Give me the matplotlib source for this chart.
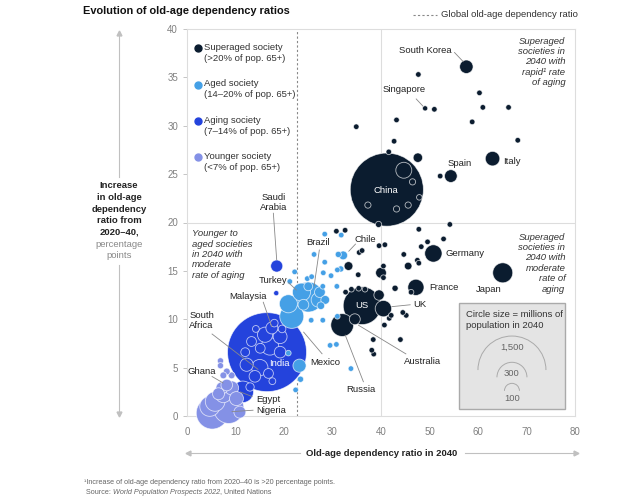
import matplotlib
matplotlib.use('Agg')
import matplotlib.pyplot as plt
from matplotlib.patches import Arc, Rectangle
from matplotlib.lines import Line2D
import numpy as np

plt.rcParams['font.family'] = ['Liberation Sans', 'DejaVu Sans']

# old-age dependency ratio 2040 / increase 2020-40 / population 2040 (millions)
super_x = [57.6, 47.7, 49.1, 51.0, 60.3, 61.0, 66.3, 58.8, 43.2, 34.9, 68.2, 42.7, 41.6, 47.6,
           63.0, 54.4, 52.2, 41.2, 44.7, 46.5, 47.9, 45.6, 43.2, 37.3, 39.5, 54.2, 47.8, 52.9,
           49.6, 48.3, 50.8, 44.7, 47.5, 47.8, 45.6, 40.5, 40.0, 40.5, 35.3, 33.3, 39.6, 40.8,
           35.5, 36.1, 30.8, 32.6, 65.1, 42.9, 47.2, 46.2, 32.7, 33.9, 35.4, 36.7, 39.6, 36.1,
           40.5, 42.1, 41.7, 44.5, 45.2, 32.0, 34.6, 40.7, 38.4, 44.0, 38.1, 38.5]
super_y = [36.1, 35.3, 31.8, 31.7, 33.4, 31.9, 31.9, 30.4, 30.6, 29.9, 28.5, 28.4, 27.3, 26.7,
           26.6, 24.8, 24.8, 23.4, 25.4, 24.2, 22.6, 21.8, 21.4, 21.8, 19.8, 19.8, 19.3, 18.3,
           18.0, 17.5, 16.8, 16.7, 16.1, 15.8, 15.5, 15.5, 14.8, 14.3, 14.6, 15.5, 17.6, 17.7,
           16.9, 17.1, 19.1, 19.2, 14.8, 13.2, 13.3, 12.8, 12.8, 13.1, 13.2, 13.1, 12.5, 11.4,
           11.1, 10.4, 10.1, 10.7, 10.4, 9.4, 10.0, 9.4, 7.9, 7.9, 6.8, 6.4]
super_pop = [47, 8, 7, 8, 8, 8, 8, 8, 8, 8, 8, 8, 8, 23,
             55, 42, 8, 1390, 66, 10, 8, 10, 10, 10, 10, 8, 8, 8,
             8, 8, 78, 8, 8, 8, 15, 8, 30, 8, 8, 20, 8, 8,
             8, 8, 8, 8, 104, 10, 68, 8, 8, 8, 8, 8, 28, 370,
             70, 8, 8, 8, 8, 135, 31, 8, 8, 8, 8, 8]

aged_x = [28.4, 31.8, 32.2, 31.2, 26.2, 28.4, 28.1, 29.7, 31.0, 31.7, 30.9, 28.0, 22.2, 24.8,
          25.7, 21.2, 25.0, 27.1, 27.4, 23.6, 24.0, 28.5, 25.0, 27.6, 21.6, 20.9, 25.6, 28.0,
          31.0, 29.5, 30.8, 33.8, 20.9, 23.2, 23.4, 22.4]
aged_y = [18.8, 18.7, 16.6, 16.7, 16.7, 15.9, 14.8, 14.5, 15.1, 15.2, 13.4, 13.4, 14.9, 14.2,
          14.4, 13.9, 12.3, 12.0, 12.8, 12.8, 11.5, 12.0, 13.4, 11.4, 10.3, 11.6, 9.9, 9.9,
          10.3, 7.3, 7.4, 4.9, 6.5, 5.2, 3.8, 2.7]
aged_pop = [8, 8, 20, 10, 8, 8, 8, 8, 8, 10, 8, 8, 8, 8,
            8, 8, 235, 55, 30, 85, 30, 20, 20, 15, 150, 85, 8, 8,
            8, 8, 8, 8, 8, 45, 10, 8]

aging_x = [18.5, 18.4, 16.5, 16.1, 19.2, 17.1, 19.2, 13.3, 15.1, 12.3, 15.0, 14.0, 16.8, 13.0,
           17.5, 11.5, 18.0, 19.6, 14.2, 12.0, 17.6]
aging_y = [15.5, 12.7, 6.6, 8.4, 8.2, 7.2, 6.6, 7.7, 7.0, 5.3, 5.0, 4.1, 4.4, 3.0,
           9.1, 2.5, 9.6, 9.0, 9.0, 6.6, 3.6]
aging_pop = [38, 7, 1620, 60, 50, 80, 35, 25, 25, 45, 70, 35, 25, 18,
             37, 120, 15, 15, 12, 20, 12]

young_x = [6.9, 6.9, 7.5, 8.2, 9.2, 8.2, 5.2, 8.6, 5.8, 7.5, 7.2, 9.2, 10.2, 6.5, 4.7, 10.9]
young_y = [5.7, 5.2, 4.2, 4.6, 4.2, 3.2, 0.3, 0.8, 1.5, 2.2, 2.9, 2.9, 1.8, 2.3, 1.0, 0.4]
young_pop = [10, 10, 12, 12, 12, 35, 265, 240, 100, 66, 37, 51, 51, 37, 104, 37]

categories = ['Superaged society\n(>20% of pop. 65+)', 'Aged society\n(14–20% of pop. 65+)',
              'Aging society\n(7–14% of pop. 65+)', 'Younger society\n(<7% of pop. 65+)']
colors = ['#0b1c2f', '#45a0e6', '#2443dc', '#8491e6']
global_ratio = 22.7

W, H = 640, 504
fig = plt.figure(figsize=(W / 100, H / 100), dpi=100)
ax = fig.add_axes([187 / W, 88 / H, 388 / W, 387 / H])
ax.set_xlim(0, 80)
ax.set_ylim(0, 40)
pxx = 388 / 80
pxy = 387 / 40

for sp in ax.spines.values():
    sp.set_color('#dddddd')
    sp.set_linewidth(0.8)
ax.set_xticks(range(0, 81, 10))
ax.set_yticks(range(0, 41, 5))
ax.tick_params(colors='#bbbbbb', labelcolor='#808080', length=3, width=0.6, labelsize=7)
ax.tick_params(axis='x', length=0, pad=8)

ax.axhline(20, color='#dddddd', lw=0.8, zorder=1)
ax.axvline(40, color='#dddddd', lw=0.8, zorder=1)
ax.axvline(global_ratio, color='#888888', lw=0.8, ls=(0, (2, 2)), zorder=1)

# all bubbles, largest first
xs = np.array(super_x + aged_x + aging_x + young_x)
ys = np.array(super_y + aged_y + aging_y + young_y)
pops = np.array(super_pop + aged_pop + aging_pop + young_pop, dtype=float)
cols = ([colors[0]] * len(super_x) + [colors[1]] * len(aged_x) +
        [colors[2]] * len(aging_x) + [colors[3]] * len(young_x))
order = np.argsort(-pops)
r_px = 38 * np.sqrt(pops / 1500)
sizes = (2 * r_px * 0.72) ** 2
ax.scatter(xs[order], ys[order], s=sizes[order], c=[cols[i] for i in order],
           edgecolors=(1, 1, 1, 0.7), linewidths=0.6, clip_on=False, zorder=3)

# country labels: name, text pos, ha, leader line
labels = [
    ('South Korea', 49.1, 37.8, 'center', (55.1, 37.6, 57.0, 36.6)),
    ('Singapore', 44.7, 33.7, 'center', (47.2, 32.8, 48.7, 32.0)),
    ('Spain', 56.2, 26.1, 'center', None),
    ('Italy', 65.1, 26.3, 'left', None),
    ('Germany', 53.2, 16.8, 'left', None),
    ('France', 49.9, 13.3, 'left', None),
    ('Japan', 62.3, 13.1, 'center', None),
    ('UK', 46.7, 11.5, 'left', (42.2, 11.3, 46.1, 11.5)),
    ('Australia', 48.6, 5.6, 'center', (45.2, 6.4, 35.3, 9.4)),
    ('Russia', 35.8, 2.7, 'center', (36.4, 3.5, 32.6, 8.4)),
    ('Mexico', 28.6, 5.5, 'center', (27.9, 6.4, 24.0, 8.7)),
    ('Chile', 36.7, 18.2, 'center', (34.8, 17.8, 33.3, 17.0)),
    ('Brazil', 27.1, 17.9, 'center', (27.3, 17.2, 26.2, 13.4)),
    ('Turkey', 17.8, 14.0, 'center', (20.9, 13.8, 22.6, 13.0)),
    ('Saudi\nArabia', 17.9, 22.1, 'center', (17.8, 21.0, 18.5, 16.1)),
    ('Malaysia', 12.6, 12.3, 'center', (15.7, 11.8, 17.5, 9.2)),
    ('South\nAfrica', 0.5, 9.9, 'left', (5.1, 8.5, 14.7, 4.8)),
    ('Ghana', 0.0, 4.6, 'left', (5.1, 4.1, 7.5, 3.4)),
    ('Egypt', 14.2, 1.7, 'left', (13.5, 2.0, 10.9, 2.5)),
    ('Nigeria', 14.2, 0.55, 'left', (13.7, 0.6, 9.2, 0.45)),
]
for name, tx, ty, ha, line in labels:
    ax.text(tx, ty, name, ha=ha, va='center', fontsize=6.8, color='#222222',
            linespacing=1.1, zorder=6)
    if line:
        ax.plot([line[0], line[2]], [line[1], line[3]], color='#888888', lw=0.6,
                zorder=5, solid_capstyle='butt')
for name, tx, ty in [('China', 41.0, 23.3), ('US', 36.0, 11.4), ('India', 19.0, 5.4)]:
    ax.text(tx, ty, name, ha='center', va='center', fontsize=6.8, color='white', zorder=6)

# quadrant notes
ax.text(78, 36.6, 'Superaged\nsocieties in\n2040 with\nrapid¹ rate\nof aging', ha='right',
        va='center', fontsize=6.8, style='italic', color='#333333', linespacing=1.2)
ax.text(78, 15.8, 'Superaged\nsocieties in\n2040 with\nmoderate\nrate of\naging', ha='right',
        va='center', fontsize=6.8, style='italic', color='#333333', linespacing=1.2)
ax.text(1.1, 16.7, 'Younger to\naged societies\nin 2040 with\nmoderate\nrate of aging',
        ha='left', va='center', fontsize=6.8, style='italic', color='#333333', linespacing=1.2)

# category legend
for i, (lab, col) in enumerate(zip(categories, colors)):
    yy = 38.0 - i * 3.75
    ax.plot(2.2, yy, 'o', color=col, ms=5, zorder=6)
    ax.text(3.6, yy + 0.55, lab, ha='left', va='top', fontsize=6.8, color='#333333',
            linespacing=1.3)

# size legend box
ax.add_patch(Rectangle((56.1, 0.75), 21.8, 10.95, fc='#e4e4e4', ec='#aaaaaa', lw=1, zorder=7))
ax.text(57.6, 11.0, 'Circle size = millions of\npopulation in 2040', ha='left', va='top',
        fontsize=6.8, color='#333333', linespacing=1.3, zorder=8)
for cy, r, lab, ly in [(4.75, 34, '1,500', 7.1), (4.0, 15, '300', 4.4), (2.6, 7.5, '100', 1.8)]:
    ax.add_patch(Arc((67.0, cy), 2 * r / pxx, 2 * r / pxy, theta1=0, theta2=180,
                     color='#aaaaaa', lw=0.7, zorder=8))
    ax.text(67.0, ly, lab, ha='center', va='center', fontsize=6.8, color='#666666', zorder=8)


def fpx(x, y):
    return x / W, 1 - y / H


# title and top legend
fig.text(*fpx(83, 11), 'Evolution of old-age dependency ratios', ha='left', va='center',
         fontsize=7.9, fontweight='bold', color='#111111')
fig.add_artist(Line2D([412.7 / W, 436.7 / W], [1 - 14.7 / H] * 2, color='#888888', lw=0.8,
                      ls=(0, (2, 2))))
fig.text(*fpx(441, 14.7), 'Global old-age dependency ratio', ha='left', va='center',
         fontsize=6.8, color='#333333')

# y axis label with arrow
ylab = ['Increase', 'in old-age', 'dependency', 'ratio from', '2020–40,', 'percentage', 'points']
for i, t in enumerate(ylab):
    bold = i < 5
    fig.text(*fpx(119, 185.7 + i * 11.7), t, ha='center', va='center', fontsize=6.8,
             fontweight='bold' if bold else 'normal', color='#222222' if bold else '#888888')
arrow_c = '#c0c0c0'
fig.add_artist(Line2D([119 / W] * 2, [1 - 34 / H, 1 - 177 / H], color=arrow_c, lw=0.8))
fig.add_artist(Line2D([119 / W] * 2, [1 - 265 / H, 1 - 413 / H], color=arrow_c, lw=0.8))
fig.add_artist(Line2D([119 / W], [1 - 33 / H], marker='^', ms=3.5, color=arrow_c, lw=0))
fig.add_artist(Line2D([119 / W], [1 - 414 / H], marker='v', ms=3.5, color=arrow_c, lw=0))

# x axis label with arrow
fig.text(*fpx(382, 453), 'Old-age dependency ratio in 2040', ha='center', va='center',
         fontsize=6.8, fontweight='bold', color='#222222')
fig.add_artist(Line2D([189 / W, 300 / W], [1 - 453 / H] * 2, color=arrow_c, lw=0.8))
fig.add_artist(Line2D([465 / W, 575 / W], [1 - 453 / H] * 2, color=arrow_c, lw=0.8))
fig.add_artist(Line2D([188 / W], [1 - 453 / H], marker='<', ms=3.5, color=arrow_c, lw=0))
fig.add_artist(Line2D([576 / W], [1 - 453 / H], marker='>', ms=3.5, color=arrow_c, lw=0))

# footnotes
fig.text(*fpx(84, 482), '¹Increase of old-age dependency ratio from 2020–40 is >20 percentage points.',
         ha='left', va='center', fontsize=5.2, color='#666666')
fig.canvas.draw()
rend = fig.canvas.get_renderer()
xcur = 86
for part, st in [('Source: ', 'normal'), ('World Population Prospects 2022', 'italic'),
                 (', United Nations', 'normal')]:
    t = fig.text(*fpx(xcur, 492), part, ha='left', va='center', fontsize=5.2,
                 color='#666666', style=st)
    xcur += t.get_window_extent(rend).width

fig.savefig('out.png', dpi=100)
